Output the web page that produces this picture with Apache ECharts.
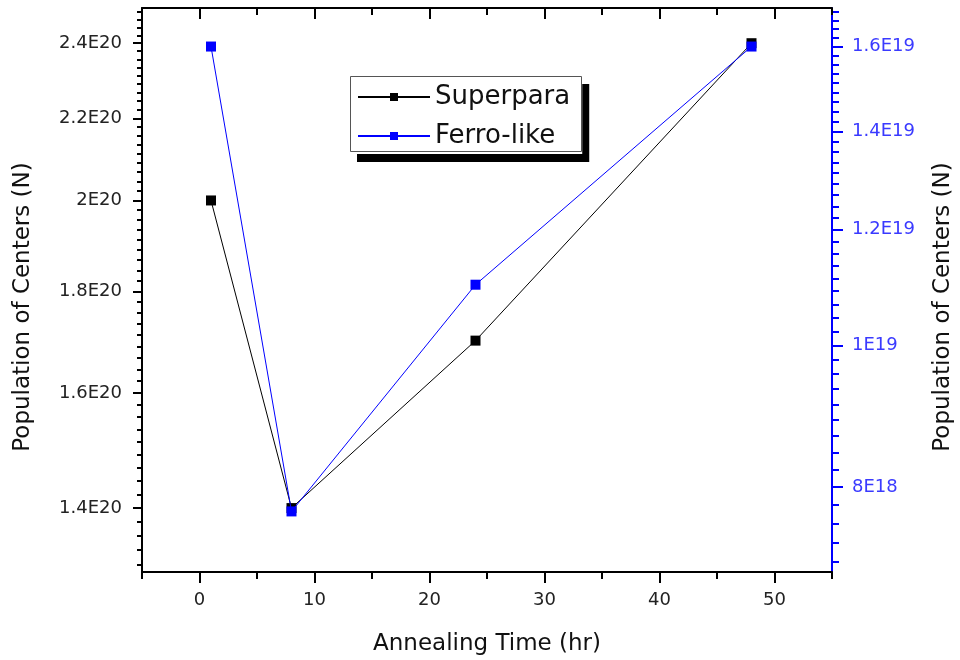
<!DOCTYPE html>
<html><head><meta charset="utf-8">
<script src="https://cdn.jsdelivr.net/npm/echarts@6/dist/echarts.min.js"></script>
<style>html,body{margin:0;padding:0;background:#fff}#c{width:960px;height:660px}</style>
</head><body><div id="c"></div>
<script>
// ---- data ----
const hours = [1, 8, 24, 48];
const superpara = [2.0e20, 1.4e20, 1.7e20, 2.4e20];
const ferroLike = [1.6e19, 7.7e18, 1.1e19, 1.6e19];
const seriesNames = ['Superpara', 'Ferro-like'];
// ---- ticks ----
const xTickLabels = ['0', '10', '20', '30', '40', '50'];
const xMinorTickValues = [-5, 5, 15, 25, 35, 45, 55];
const leftTickLabels = ['1.4E20', '1.6E20', '1.8E20', '2E20', '2.2E20', '2.4E20'];
const rightTickLabels = ['8E18', '1E19', '1.2E19', '1.4E19', '1.6E19'];
const xRange = [-5, 55];
const leftRange = [1.3e20, 2.5e20];
const rightRange = [7e18, 1.7e19];

const xMajor = xTickLabels.map(Number);
const leftMajor = leftTickLabels.map(Number);
const rightMajor = rightTickLabels.map(Number);

function minorValues(majors, range, perGap) {
  const step = (majors[1] - majors[0]) / perGap;
  const out = [];
  for (let k = -200; k <= 200; k++) {
    if (k % perGap === 0) continue;
    const v = majors[0] + k * step;
    if (v >= range[0] && v <= range[1]) out.push(v);
  }
  return out;
}
const leftMinor = minorValues(leftMajor, leftRange, 9);
const rightMinor = minorValues(rightMajor, rightRange, 9);

function labelFor(labels) {
  return function (v) {
    for (const s of labels) {
      const n = Number(s);
      if (Math.abs(n - v) <= Math.abs(n) * 1e-6 + 1e-9) return s;
    }
    return '';
  };
}

const FONT = 'DejaVu Sans';
const chart = echarts.init(document.getElementById('c'), null, {renderer: 'canvas'});

const blackLine = {show: true, onZero: false, lineStyle: {color: '#000', width: 2}};
const blueLine = {show: true, onZero: false, lineStyle: {color: '#0000ff', width: 2}};
const noLine = {show: false, onZero: false};

// legend frame (decoration)
const legendBox = {left: 350, top: 76, width: 232, height: 76};

const option = {
  animation: false,
  backgroundColor: '#fff',
  textStyle: {fontFamily: FONT},
  grid: {left: 142, right: 128, top: 8, bottom: 88, containLabel: false, outerBoundsMode: 'none'},
  graphic: [
    {
      type: 'rect', z: 100, zlevel: 0, silent: true,
      shape: {x: legendBox.left + 0.5, y: legendBox.top + 0.5, width: legendBox.width - 1, height: legendBox.height - 1},
      style: {fill: null, stroke: '#555', lineWidth: 1}
    }
  ],
  legend: {
    data: seriesNames,
    orient: 'vertical',
    left: legendBox.left, top: legendBox.top,
    itemWidth: 72, itemHeight: 10, itemGap: 13,
    padding: [8, 12, 5, 7],
    backgroundColor: '#fff',
    borderWidth: 0,
    shadowColor: '#000', shadowOffsetX: 7, shadowOffsetY: 8, shadowBlur: 0,
    selectedMode: false,
    textStyle: {fontSize: 26, color: '#111', fontFamily: FONT}
  },
  xAxis: [
    {
      type: 'value', position: 'bottom', min: xRange[0], max: xRange[1],
      name: 'Annealing Time (hr)', nameLocation: 'middle', nameGap: 61,
      nameTextStyle: {fontSize: 23, color: '#111', fontFamily: FONT},
      axisLine: blackLine,
      axisTick: {show: true, inside: false, length: 11, customValues: xMajor, lineStyle: {color: '#000', width: 2}},
      axisLabel: {show: true, customValues: xMajor, formatter: labelFor(xTickLabels), fontSize: 18, color: '#222', margin: 19, fontFamily: FONT},
      splitLine: {show: false}
    },
    {
      type: 'value', position: 'bottom', min: xRange[0], max: xRange[1],
      axisLine: noLine,
      axisTick: {show: true, inside: false, length: 7, customValues: xMinorTickValues, lineStyle: {color: '#000', width: 2}},
      axisLabel: {show: false},
      splitLine: {show: false}
    },
    {
      type: 'value', position: 'top', min: xRange[0], max: xRange[1],
      axisLine: blackLine,
      axisTick: {show: true, inside: true, length: 11, customValues: xMajor, lineStyle: {color: '#000', width: 2}},
      axisLabel: {show: false},
      splitLine: {show: false}
    },
    {
      type: 'value', position: 'top', min: xRange[0], max: xRange[1],
      axisLine: noLine,
      axisTick: {show: true, inside: true, length: 7, customValues: xMinorTickValues, lineStyle: {color: '#000', width: 2}},
      axisLabel: {show: false},
      splitLine: {show: false}
    }
  ],
  yAxis: [
    {
      type: 'log', logBase: 10, position: 'left', min: leftRange[0], max: leftRange[1],
      name: 'Population of Centers (N)', nameLocation: 'middle', nameGap: 107,
      nameTextStyle: {fontSize: 23, color: '#111', fontFamily: FONT, padding: [0, 34, 0, 0]},
      axisLine: blackLine,
      axisTick: {show: true, inside: false, length: 9, customValues: leftMajor, lineStyle: {color: '#000', width: 2}},
      axisLabel: {show: true, customValues: leftMajor, formatter: labelFor(leftTickLabels), fontSize: 18, color: '#222', margin: 20, fontFamily: FONT},
      splitLine: {show: false}, minorTick: {show: false}
    },
    {
      type: 'log', logBase: 10, position: 'left', min: leftRange[0], max: leftRange[1],
      axisLine: noLine,
      axisTick: {show: true, inside: false, length: 5, customValues: leftMinor, lineStyle: {color: '#000', width: 2}},
      axisLabel: {show: false},
      splitLine: {show: false}
    },
    {
      type: 'log', logBase: 10, position: 'right', min: rightRange[0], max: rightRange[1],
      name: 'Population of Centers (N)', nameLocation: 'middle', nameGap: 100,
      nameTextStyle: {fontSize: 23, color: '#111', fontFamily: FONT, padding: [0, 34, 0, 0]},
      axisLine: blueLine,
      axisTick: {show: true, inside: false, length: 11, customValues: rightMajor, lineStyle: {color: '#0000ff', width: 2}},
      axisLabel: {show: true, customValues: rightMajor, formatter: labelFor(rightTickLabels), fontSize: 18, color: '#3a3aff', margin: 20, fontFamily: FONT},
      splitLine: {show: false}
    },
    {
      type: 'log', logBase: 10, position: 'right', min: rightRange[0], max: rightRange[1],
      axisLine: noLine,
      axisTick: {show: true, inside: false, length: 7, customValues: rightMinor, lineStyle: {color: '#0000ff', width: 2}},
      axisLabel: {show: false},
      splitLine: {show: false}
    }
  ],
  series: [
    {
      name: seriesNames[0], type: 'line', xAxisIndex: 0, yAxisIndex: 0,
      data: hours.map((h, i) => [h, superpara[i]]),
      symbol: 'rect', symbolSize: 10,
      itemStyle: {color: '#000'},
      lineStyle: {color: '#000', width: 1},
      z: 2
    },
    {
      name: seriesNames[1], type: 'line', xAxisIndex: 0, yAxisIndex: 2,
      data: hours.map((h, i) => [h, ferroLike[i]]),
      symbol: 'rect', symbolSize: 10,
      itemStyle: {color: '#0000ff'},
      lineStyle: {color: '#0000ff', width: 1},
      z: 3
    }
  ]
};
chart.setOption(option);
</script>
</body></html>
